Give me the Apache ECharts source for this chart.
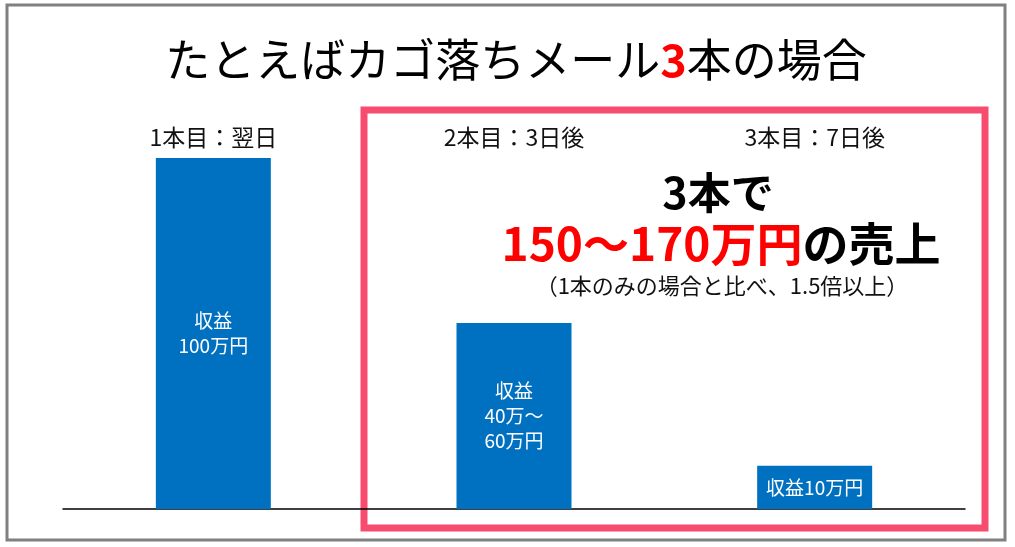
<!DOCTYPE html>
<html>
<head>
<meta charset="utf-8">
<script src="https://cdn.jsdelivr.net/npm/echarts@6/dist/echarts.min.js"></script>
<style>
  html, body { margin: 0; padding: 0; background: #fff; }
  #chart { width: 1015px; height: 547px; }
</style>
</head>
<body>
<div id="chart"></div>
<script>
// 何本目のメールか
var categories = ['1本目：翌日', '2本目：3日後', '3本目：7日後'];
// 収益（バーの高さ、1本目=100）
var revenue = [100, 53, 12.3];
// バーの中の文字
var barLabels = ['収益\n100万円', '収益\n40万～\n60万円', '収益10万円'];

var font = '"Noto Sans CJK JP", "Noto Sans", sans-serif';

var myChart = echarts.init(document.getElementById('chart'));

var options = {
  animation: false,
  grid: {
    left: 63,
    right: 50,
    top: 158,
    bottom: 38
  },
  xAxis: [
    {
      type: 'category',
      data: categories,
      axisLine: { lineStyle: { color: '#000', width: 1.5 } },
      axisTick: { show: false },
      axisLabel: { show: false }
    },
    {
      type: 'category',
      position: 'top',
      data: categories,
      axisLine: { show: false },
      axisTick: { show: false },
      axisLabel: {
        margin: 9,
        color: '#111',
        fontSize: 23,
        fontFamily: font
      }
    }
  ],
  yAxis: {
    type: 'value',
    min: 0,
    max: 100,
    show: false
  },
  series: [
    {
      type: 'bar',
      data: revenue,
      barWidth: 115,
      itemStyle: { color: '#0070C0' },
      label: {
        show: true,
        position: 'inside',
        color: '#fff',
        fontSize: 19,
        lineHeight: 25,
        fontFamily: font,
        formatter: function (p) {
          return barLabels[p.dataIndex];
        }
      }
    }
  ],
  graphic: [
    // 外枠
    {
      type: 'rect',
      shape: { x: 7, y: 5, width: 998, height: 535 },
      style: { fill: null, stroke: '#808080', lineWidth: 3 }
    },
    // 2本目以降の枠
    {
      type: 'rect',
      shape: { x: 364, y: 110, width: 621, height: 418 },
      style: { fill: null, stroke: '#F74C70', lineWidth: 7 }
    },
    {
      type: 'text',
      x: 516,
      y: 60,
      style: {
        text: '{a|たとえばカゴ落ちメール}{b|3}{a|本の場合}',
        align: 'center',
        verticalAlign: 'middle',
        rich: {
          a: { fontSize: 45, fontFamily: font, fill: '#000', color: '#000' },
          b: { fontSize: 45, fontFamily: font, fontWeight: 'bold', fill: '#FF0000', color: '#FF0000' }
        }
      }
    },
    {
      type: 'text',
      x: 718,
      y: 193,
      style: {
        text: '3本で',
        align: 'center',
        verticalAlign: 'middle',
        font: 'bold 43px ' + font,
        fill: '#000'
      }
    },
    {
      type: 'text',
      x: 721,
      y: 244,
      style: {
        text: '{r|150～170万円}{k|の売上}',
        align: 'center',
        verticalAlign: 'middle',
        rich: {
          r: { fontSize: 46, fontWeight: 'bold', fontFamily: font, fill: '#FF0000', color: '#FF0000' },
          k: { fontSize: 46, fontWeight: 'bold', fontFamily: font, fill: '#000', color: '#000' }
        }
      }
    },
    {
      type: 'text',
      x: 722,
      y: 286,
      style: {
        text: '（1本のみの場合と比べ、1.5倍以上）',
        align: 'center',
        verticalAlign: 'middle',
        font: '22px ' + font,
        fill: '#111'
      }
    }
  ]
};

myChart.setOption(options);
window.addEventListener('resize', function () {
  myChart.resize();
});
</script>
</body>
</html>
